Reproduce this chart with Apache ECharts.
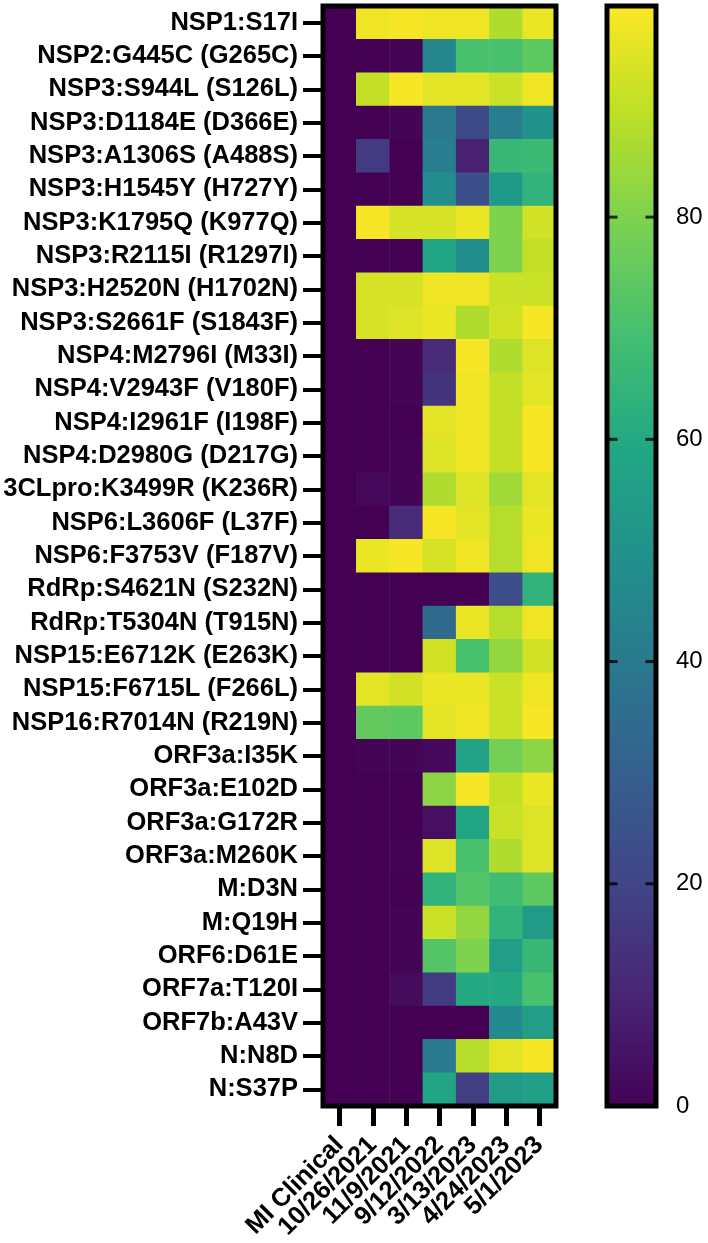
<!DOCTYPE html>
<html>
<head>
<meta charset="utf-8">
<script src="https://cdn.jsdelivr.net/npm/echarts@6/dist/echarts.min.js"></script>
<style>
  html, body { margin: 0; padding: 0; background: #fff; }
  #chart { width: 708px; height: 1243px; }
</style>
</head>
<body>
<div id="chart"></div>
<script>
// mutations (rows, top to bottom)
const mutations = [
  'NSP1:S17I', 'NSP2:G445C (G265C)', 'NSP3:S944L (S126L)', 'NSP3:D1184E (D366E)',
  'NSP3:A1306S (A488S)', 'NSP3:H1545Y (H727Y)', 'NSP3:K1795Q (K977Q)', 'NSP3:R2115I (R1297I)',
  'NSP3:H2520N (H1702N)', 'NSP3:S2661F (S1843F)', 'NSP4:M2796I (M33I)', 'NSP4:V2943F (V180F)',
  'NSP4:I2961F (I198F)', 'NSP4:D2980G (D217G)', '3CLpro:K3499R (K236R)', 'NSP6:L3606F (L37F)',
  'NSP6:F3753V (F187V)', 'RdRp:S4621N (S232N)', 'RdRp:T5304N (T915N)', 'NSP15:E6712K (E263K)',
  'NSP15:F6715L (F266L)', 'NSP16:R7014N (R219N)', 'ORF3a:I35K', 'ORF3a:E102D',
  'ORF3a:G172R', 'ORF3a:M260K', 'M:D3N', 'M:Q19H', 'ORF6:D61E', 'ORF7a:T120I',
  'ORF7b:A43V', 'N:N8D', 'N:S37P'
]

// samples (columns)
const samples = ['MI Clinical', '10/26/2021', '11/9/2021', '9/12/2022', '3/13/2023', '4/24/2023', '5/1/2023']

// frequency (%) per sample, one value per mutation, same order as above
const miClinical = [0, 0, 0, 0, 0, 0, 0, 0, 0, 0, 0, 0, 0, 0, 0, 0, 0, 0, 0, 0, 0, 0, 0, 0, 0, 0, 0, 0, 0, 0, 0, 0, 0]
const oct2021 = [97, 0, 90, 0, 17, 0, 98, 0, 93, 93, 0, 0, 0, 0, 2, 0, 96, 0, 0, 0, 95, 75, 1, 0, 0, 0, 0, 0, 0, 0, 0, 0, 0]
const nov2021 = [98, 1, 98, 1, 0, 0, 93, 0, 93, 94, 1, 1, 0, 1, 1, 12, 98, 0, 0, 0, 92, 74, 1, 0, 0, 1, 0, 1, 1, 3, 0, 0, 0]
const sep2022 = [97, 45, 95, 40, 42, 48, 93, 58, 97, 96, 12, 15, 95, 94, 87, 98, 93, 0, 34, 92, 96, 95, 2, 82, 4, 94, 64, 91, 72, 17, 0, 40, 58]
const mar2023 = [97, 70, 95, 22, 9, 24, 96, 48, 97, 87, 98, 97, 97, 97, 94, 95, 97, 0, 96, 70, 96, 97, 57, 98, 58, 70, 72, 83, 80, 60, 0, 88, 18]
const apr2023 = [87, 70, 91, 42, 66, 53, 80, 80, 91, 92, 87, 90, 90, 90, 85, 88, 88, 23, 88, 83, 91, 91, 78, 90, 91, 87, 68, 64, 55, 60, 47, 95, 54]
const may2023 = [96, 74, 97, 50, 67, 64, 92, 90, 91, 98, 94, 95, 98, 98, 95, 96, 97, 64, 97, 92, 97, 98, 82, 96, 94, 94, 74, 54, 66, 70, 55, 98, 56]

// colour scale
const scaleMin = 0
const scaleMax = 99
const scaleTicks = [0, 20, 40, 60, 80]

const viridis = ['#440154', '#482475', '#414487', '#355f8d', '#2a788e', '#21918c',
  '#22a884', '#44bf70', '#7ad151', '#bddf26', '#fde725']

const columns = [miClinical, oct2021, nov2021, sep2022, mar2023, apr2023, may2023]
const cells = []
columns.forEach((col, x) => {
  col.forEach((v, y) => {
    cells.push([x, y, v])
  })
})

// gradient for the colour bar, top = max
const barStops = viridis.map((c, i) => {
  return { offset: 1 - i / (viridis.length - 1), color: c }
})

// little inward tick marks on both edges of the colour bar (skip 0, it sits on the frame)
const innerTicks = scaleTicks.filter(v => v > scaleMin)
const leftTicks = innerTicks.map(v => [0, v])
const rightTicks = innerTicks.map(v => [1, v])

const labelFont = {
  fontFamily: 'Liberation Sans, Arial, sans-serif',
  fontWeight: 'bold',
  fontSize: 25.5,
  color: '#000'
}

const chart = echarts.init(document.getElementById('chart'))
chart.setOption({
  animation: false,
  grid: [
    { left: 323, top: 6, width: 233, height: 1100, show: true, borderColor: '#000', borderWidth: 5, z: 10 },
    {
      left: 607, top: 6, width: 49, height: 1100, show: true, borderColor: '#000', borderWidth: 5,
      backgroundColor: new echarts.graphic.LinearGradient(0, 0, 0, 1, barStops)
    }
  ],
  xAxis: [
    {
      type: 'category',
      gridIndex: 0,
      data: samples,
      axisLine: { show: false },
      axisTick: { show: true, alignWithLabel: true, length: 20, lineStyle: { color: '#000', width: 5 } },
      axisLabel: Object.assign({ rotate: 45, margin: 35, interval: 0 }, labelFont),
      splitLine: { show: false }
    },
    {
      type: 'value',
      gridIndex: 1,
      min: 0,
      max: 1,
      show: false
    }
  ],
  yAxis: [
    {
      type: 'category',
      gridIndex: 0,
      inverse: true,
      data: mutations,
      axisLine: { show: false },
      axisTick: { show: true, alignWithLabel: true, length: 20, lineStyle: { color: '#000', width: 4 } },
      axisLabel: Object.assign({ margin: 25, interval: 0 }, labelFont),
      splitLine: { show: false }
    },
    {
      type: 'value',
      gridIndex: 1,
      position: 'right',
      min: scaleMin,
      max: scaleMax,
      interval: 20,
      axisLine: { show: false },
      axisTick: { show: false },
      axisLabel: {
        margin: 20,
        fontFamily: 'Liberation Sans, Arial, sans-serif',
        fontSize: 24,
        color: '#000',
        showMaxLabel: false,
        formatter: v => (scaleTicks.indexOf(v) >= 0 ? String(v) : '')
      },
      splitLine: { show: false }
    }
  ],
  visualMap: {
    show: false,
    type: 'continuous',
    seriesIndex: 0,
    min: scaleMin,
    max: scaleMax,
    inRange: { color: viridis }
  },
  series: [
    {
      type: 'heatmap',
      xAxisIndex: 0,
      yAxisIndex: 0,
      data: cells,
      itemStyle: { borderWidth: 0 }
    },
    {
      type: 'scatter',
      xAxisIndex: 1,
      yAxisIndex: 1,
      data: leftTicks,
      symbol: 'rect',
      symbolSize: [11, 3],
      symbolOffset: [5, 0],
      itemStyle: { color: '#000' },
      silent: true,
      z: 20
    },
    {
      type: 'scatter',
      xAxisIndex: 1,
      yAxisIndex: 1,
      data: rightTicks,
      symbol: 'rect',
      symbolSize: [11, 3],
      symbolOffset: [-5, 0],
      itemStyle: { color: '#000' },
      silent: true,
      z: 20
    }
  ]
})
</script>
</body>
</html>
